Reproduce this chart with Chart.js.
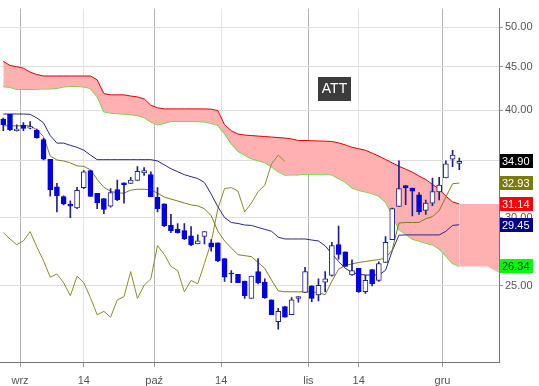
<!DOCTYPE html>
<html>
<head>
<meta charset="utf-8">
<script src="https://cdn.jsdelivr.net/npm/chart.js@4.4.0/dist/chart.umd.min.js"></script>
<style>
  html, body { margin: 0; padding: 0; background: #fff; }
</style>
</head>
<body>
<canvas id="chart" width="539" height="386"></canvas>
<script>
// daily candles, index 0 = first session shown
const opens  = [39.1,39.6,37.9,38.46,38.15,37.96,37.0,35.1,32.6,31.75,31.12,30.8,32.53,34.04,32.03,31.6,30.96,32.37,32.95,32.9,33.16,33.83,33.68,31.69,31.14,29.4,29.09,28.99,28.59,27.98,28.54,28.05,28.05,26.9,25.88,25.79,25.32,24.18,25.98,25.26,24.08,22.71,23.66,23.14,24.18,24.57,25.0,24.4,25.26,25.71,27.92,27.39,25.74,26.2,24.61,26.11,25.37,26.62,28.3,30.93,32.7,32.5,31.91,30.6,31.2,32.15,33.38,35.1,34.7];
const highs  = [39.2,39.6,38.5,38.72,38.83,38.06,37.13,35.1,32.9,31.83,31.41,32.56,34.04,34.04,32.03,31.6,32.45,33.19,32.95,33.45,34.42,34.33,33.93,32.53,31.14,30.28,29.55,29.55,29.3,28.66,28.92,28.3,28.05,26.9,26.05,25.79,25.32,25.66,26.9,25.48,24.08,23.55,23.66,24.23,24.29,26.27,25.0,25.48,25.98,28.1,29.35,27.39,26.81,26.2,25.74,26.11,26.67,28.54,30.8,34.94,32.7,32.5,32.1,31.47,33.38,33.45,34.94,35.96,35.2];
const lows   = [37.9,37.9,37.85,37.89,38.08,37.13,35.03,31.8,30.48,31.06,30.02,30.74,32.45,31.78,30.74,30.34,30.88,31.41,31.2,32.9,33.16,33.62,31.75,30.48,29.3,28.84,28.79,28.3,27.85,27.98,27.98,27.44,26.67,25.3,25.21,25.21,24.18,24.18,25.14,24.18,23.14,22.26,22.99,23.14,23.93,24.57,23.97,24.01,24.61,25.66,26.85,26.34,25.71,24.57,24.5,25.0,25.3,26.62,28.3,30.93,31.08,30.16,30.28,30.28,31.0,31.47,33.38,34.42,34.13];
const closes = [38.5,38.0,38.06,38.11,38.32,37.17,35.1,32.33,31.83,31.14,30.96,32.3,33.93,31.78,31.22,30.68,32.1,31.5,32.79,33.19,33.98,34.04,31.75,30.74,29.35,28.99,28.84,28.35,27.92,28.2,28.92,27.75,26.74,25.59,25.81,25.21,24.35,25.66,25.21,24.23,23.14,23.35,22.99,24.08,24.29,25.98,24.18,25.04,25.48,27.85,27.2,26.34,26.05,24.61,25.37,25.14,26.55,28.1,30.76,32.45,32.53,32.23,30.48,31.22,32.18,32.75,34.67,35.49,34.9];

// ichimoku lines
const tenkan = [38.39,38.39,38.39,38.39,38.39,37.99,37.30,35.40,35.03,34.94,34.76,34.49,34.43,34.13,33.25,32.56,32.22,32.06,32.06,32.31,32.39,32.39,32.35,32.06,31.72,31.55,31.39,31.22,31.06,30.98,30.74,30.18,28.94,28.20,27.68,27.18,27.11,27.04,26.62,26.20,25.39,24.67,24.61,24.61,24.61,24.61,24.61,24.54,24.42,25.32,26.14,26.41,26.52,26.62,26.69,26.76,26.83,26.93,27.54,29.59,29.63,29.63,29.63,29.94,30.10,30.58,31.72,32.87,32.93];
const kijun = [39.62,39.62,39.62,39.62,39.59,39.20,38.70,37.40,36.65,36.65,36.43,36.24,35.96,35.49,35.06,35.06,35.06,35.06,35.06,35.06,35.06,35.06,35.06,34.94,34.58,34.22,33.95,33.68,33.50,33.33,32.98,31.97,30.90,30.02,29.63,29.55,29.43,29.40,29.24,29.09,28.94,28.49,28.35,28.35,28.35,28.35,28.27,28.20,27.83,27.25,26.69,26.20,25.93,25.79,25.74,25.74,25.74,26.07,27.46,28.64,28.66,28.66,28.66,28.66,28.66,28.66,28.94,29.40,29.45];
const senkouA = [45.63,45.12,44.98,44.80,44.33,44.04,43.87,43.87,43.87,43.87,43.87,43.87,43.87,43.87,43.42,41.85,41.71,41.71,41.71,41.58,41.48,41.26,40.56,40.29,40.17,40.17,40.17,40.17,40.17,40.17,40.17,40.14,39.98,38.49,37.89,37.55,37.45,37.40,37.35,37.30,37.25,37.20,37.15,37.06,36.91,36.91,36.88,36.86,36.84,36.81,36.67,36.48,36.24,36.10,35.96,35.68,35.40,35.08,34.76,34.45,34.18,33.91,33.55,33.25,32.81,32.39,31.80,31.31,31.14];
const senkouB = [42.65,42.57,42.35,42.33,42.35,42.37,42.40,42.40,42.46,42.63,42.69,42.69,42.63,42.46,41.53,39.88,39.72,39.67,39.62,39.57,39.46,39.26,38.80,38.49,38.65,38.85,38.85,38.85,38.85,38.83,38.80,38.65,38.44,37.60,36.62,35.87,35.49,35.17,34.98,34.80,34.40,33.95,33.64,33.68,33.68,33.73,33.74,33.74,33.73,33.68,33.33,33.03,32.52,32.31,32.18,32.01,31.80,31.31,30.26,29.09,28.72,28.35,28.20,28.05,27.92,27.61,27.11,26.55,26.34];
const chikouShift = 26;

// cloud part beyond the last session
const futureDays = [68, 72.2, 74.5];
const futureTop = [31.14, 31.14, 31.14];
const futureBottom = [26.34, 26.34, 25.75];

// axes
const tickDays = [2.5, 12, 22.5, 32.5, 45.5, 53, 65.5];
const tickLabels = ['wrz', '14', 'paź', '14', 'lis', '14', 'gru'];
const priceTicks = [25, 30, 35, 40, 45, 50];

const days = closes.map((_, i) => i);
const pts = arr => arr.map((v, i) => ({ x: i, y: v }));
const isDown = i => closes[i] < opens[i];

const markers = [
  { value: closes[closes.length - 1], bg: '#000000', fg: '#ffffff' },
  { value: tenkan[tenkan.length - 1], bg: '#7a7a10', fg: '#ffffff' },
  { value: senkouA[senkouA.length - 1], bg: '#ff0000', fg: '#ffffff' },
  { value: kijun[kijun.length - 1], bg: '#00008c', fg: '#ffffff' },
  { value: senkouB[senkouB.length - 1], bg: '#00ff00', fg: '#333333' },
];

const overlay = {
  id: 'overlay',
  afterDraw(chart) {
    const ctx = chart.ctx, y = chart.scales.y, area = chart.chartArea;
    ctx.save();
    ctx.font = '11px "Liberation Sans", Arial, sans-serif';
    ctx.textBaseline = 'middle';
    ctx.textAlign = 'left';
    markers.forEach(m => {
      const py = Math.round(y.getPixelForValue(m.value));
      ctx.fillStyle = m.bg;
      ctx.fillRect(area.right + 1, py - 7, 33, 14);
      ctx.fillStyle = m.fg;
      ctx.fillText(m.value.toFixed(2), area.right + 3, py + 0.5);
    });
    // ticker badge
    ctx.fillStyle = '#3c3c3c';
    ctx.fillRect(318, 77, 33, 24);
    ctx.fillStyle = '#ffffff';
    ctx.font = '14px "Liberation Sans", Arial, sans-serif';
    ctx.textAlign = 'center';
    ctx.fillText('ATT', 334.5, 89.5);
    ctx.restore();
  }
};

Chart.defaults.font.family = '"Liberation Sans", Arial, sans-serif';
Chart.defaults.font.size = 11;
Chart.defaults.color = '#555';

new Chart(document.getElementById('chart'), {
  data: {
    datasets: [
      {
        type: 'bar', label: 'body',
        data: days.map(i => ({ x: i, y: [opens[i], closes[i]] })),
        backgroundColor: days.map(i => isDown(i) ? '#0000e0' : '#ffffff'),
        borderColor: days.map(i => isDown(i) ? '#0000e0' : '#20208c'),
        borderWidth: 1, borderSkipped: false, barThickness: 5, grouped: false, order: 0,
      },
      {
        type: 'bar', label: 'wick',
        data: days.map(i => ({ x: i, y: [lows[i], highs[i]] })),
        backgroundColor: '#20208c', barThickness: 1, grouped: false, order: 1,
      },
      { type: 'line', label: 'Tenkan', data: pts(tenkan), borderColor: '#7d7d20', borderWidth: 1, order: 2 },
      { type: 'line', label: 'Kijun', data: pts(kijun), borderColor: '#28288a', borderWidth: 1, order: 2 },
      {
        type: 'line', label: 'Chikou',
        data: closes.slice(chikouShift).map((v, i) => ({ x: i, y: v })),
        borderColor: '#8a8a30', borderWidth: 1, order: 2,
      },
      {
        type: 'line', label: 'Senkou A', data: pts(senkouA), borderColor: '#e00000', borderWidth: 1,
        fill: '+1', backgroundColor: '#ffb0b0', order: 5,
      },
      { type: 'line', label: 'Senkou B', data: pts(senkouB), borderColor: '#5cdc40', borderWidth: 1.5, order: 5 },
      {
        type: 'line', label: 'future A', data: futureDays.map((d, i) => ({ x: d, y: futureTop[i] })),
        borderWidth: 0, borderColor: 'rgba(0,0,0,0)', fill: '+1', backgroundColor: '#ffb0b0', order: 6,
      },
      {
        type: 'line', label: 'future B', data: futureDays.map((d, i) => ({ x: d, y: futureBottom[i] })),
        borderWidth: 0, borderColor: 'rgba(0,0,0,0)', order: 6,
      },
    ],
  },
  options: {
    responsive: false,
    animation: false,
    layout: { padding: 0 },
    elements: { point: { radius: 0 }, line: { tension: 0 } },
    plugins: { legend: { display: false }, tooltip: { enabled: false } },
    scales: {
      x: {
        type: 'linear', min: -0.49, max: 73.92, offset: false,
        afterBuildTicks: s => { s.ticks = tickDays.map(v => ({ value: v })); },
        afterFit: s => { s.height = 24; },
        ticks: { autoSkip: false, maxRotation: 0, padding: 7, callback: (v, i) => tickLabels[i] },
        grid: {
          offset: false, tickLength: 5, tickColor: '#999',
          color: c => tickLabels[c.index] === '14' ? '#e2e2e2' : '#b4b4b4',
        },
        border: { color: '#777' },
      },
      y: {
        type: 'logarithmic', position: 'right', min: 20.39, max: 52.55,
        afterBuildTicks: s => { s.ticks = priceTicks.map(v => ({ value: v })); },
        afterFit: s => { s.width = 40; },
        ticks: { padding: 2, callback: v => Number(v).toFixed(2) },
        grid: { tickLength: 4, tickColor: '#999', color: '#dedede' },
        border: { color: '#777' },
      },
    },
  },
  plugins: [overlay],
});
</script>
</body>
</html>
